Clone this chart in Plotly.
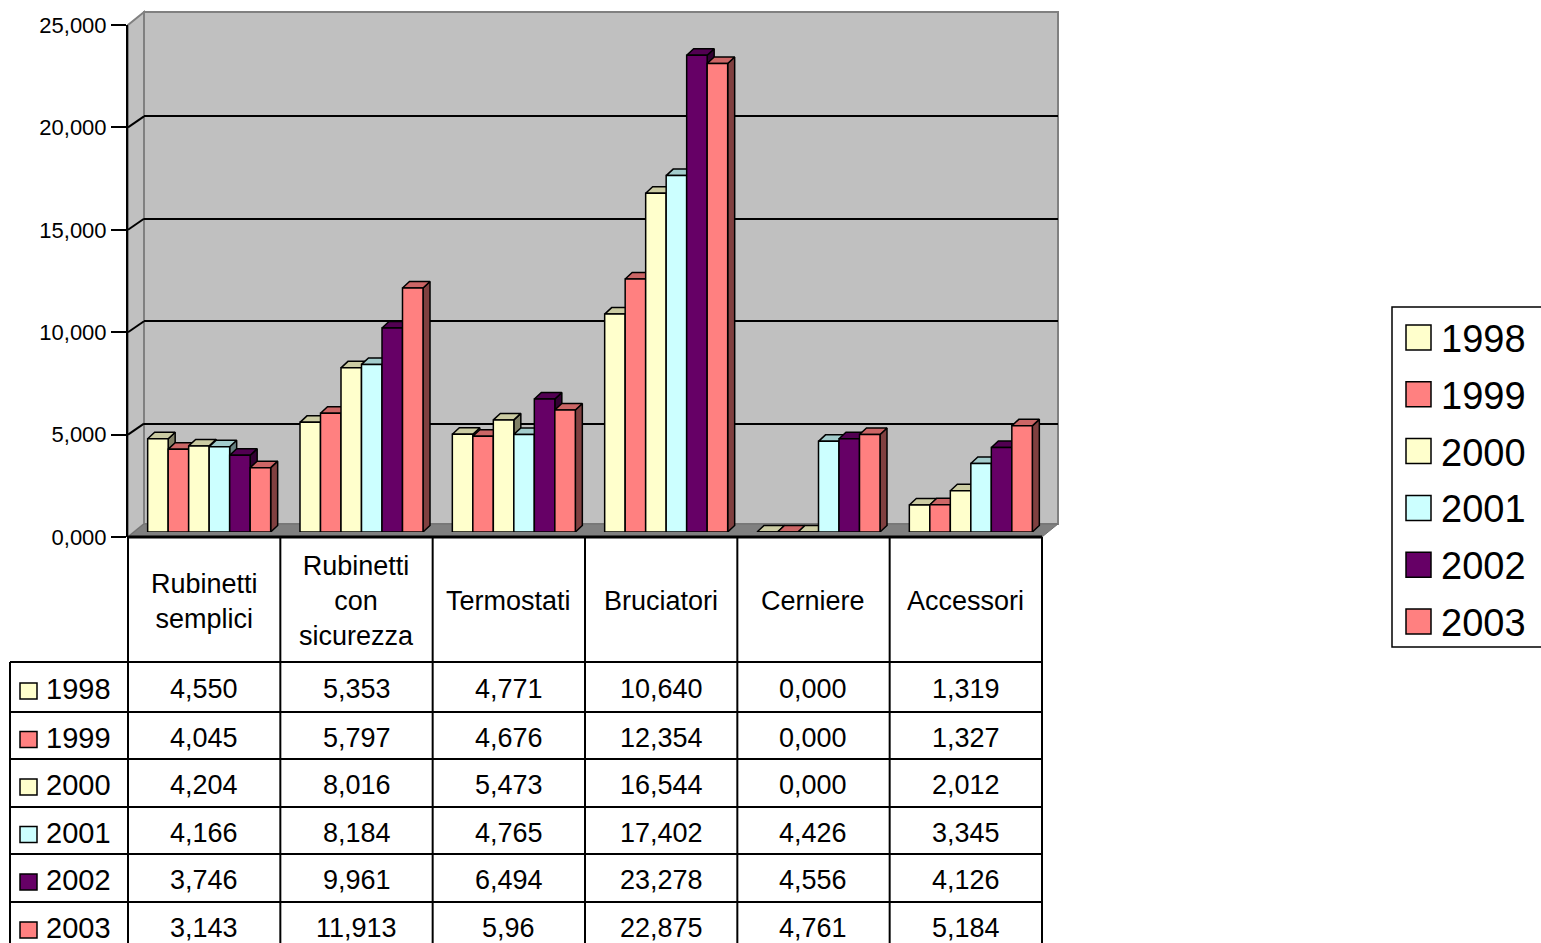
import plotly.graph_objects as go

# ---------------- data ----------------
categories = ["Rubinetti semplici", "Rubinetti con sicurezza", "Termostati",
              "Bruciatori", "Cerniere", "Accessori"]
category_labels = ["Rubinetti<br>semplici", "Rubinetti<br>con<br>sicurezza", "Termostati",
                   "Bruciatori", "Cerniere", "Accessori"]
years = ["1998", "1999", "2000", "2001", "2002", "2003"]
v1998 = [4.550, 5.353, 4.771, 10.640, 0.000, 1.319]
v1999 = [4.045, 5.797, 4.676, 12.354, 0.000, 1.327]
v2000 = [4.204, 8.016, 5.473, 16.544, 0.000, 2.012]
v2001 = [4.166, 8.184, 4.765, 17.402, 4.426, 3.345]
v2002 = [3.746, 9.961, 6.494, 23.278, 4.556, 4.126]
v2003 = [3.143, 11.913, 5.96, 22.875, 4.761, 5.184]
series_values = [v1998, v1999, v2000, v2001, v2002, v2003]
series_colors = ["#FFFFCC", "#FF8080", "#FFFFCC", "#CCFFFF", "#660066", "#FF8080"]
y_tick_values = [0, 5, 10, 15, 20, 25]
table_text_overrides = {(5, 2): "5,96"}   # (series index, category index) -> text as printed

# ---------------- geometry (pixels) ----------------
W, H = 1541, 943
FONT = "Liberation Sans, Arial, sans-serif"
AX_L, AX_R = 128, 1042          # front edge of the category axis
AX_BOT, AX_TOP = 537, 25        # value axis (0 .. 25)
WALL_DX, WALL_DY = 16, 12       # depth offset of back wall
BAR_SHIFT_UP = 5                # bars sit in the middle of the floor depth
BAR_W_PX = 20.5
GROUP_OFF_PX = 5
BAR_DX_PX, BAR_DY_PX = 7, 6.5


def px(x):
    return x / W


def py(y):
    return 1 - y / H


ncat = len(categories)
col_w = (AX_R - AX_L) / ncat
ymax = y_tick_values[-1]
x_unit = col_w                           # px per category unit
y_unit = (AX_BOT - AX_TOP) / ymax        # px per value unit

bw = BAR_W_PX / x_unit
goff = GROUP_OFF_PX / x_unit
ddx = BAR_DX_PX / x_unit
ddy = BAR_DY_PX / y_unit


def shade(hex_color, f):
    h = hex_color.lstrip("#")
    r, g, b = (int(h[i:i + 2], 16) for i in (0, 2, 4))
    return "rgb(%d,%d,%d)" % (round(r * f), round(g * f), round(b * f))


def fmt(v):
    return ("%.3f" % v).replace(".", ",")


fig = go.Figure()

# subplot 1: back-wall gridlines (placeholder trace)
fig.add_trace(go.Scatter(x=[None], y=[None], xaxis="x", yaxis="y", showlegend=False, hoverinfo="skip"))
# subplot 2: left value axis
fig.add_trace(go.Scatter(x=[None], y=[None], xaxis="x2", yaxis="y2", showlegend=False, hoverinfo="skip"))

# subplot 3: 3-D looking columns
nser = len(series_values)
for k, (vals, col) in enumerate(zip(series_values, series_colors)):
    fx, fy, tx, ty, sx, sy = [], [], [], [], [], []
    for i, v in enumerate(vals):
        L = i - nser / 2 * bw + k * bw + goff
        R = L + bw
        fx += [L, R, R, L, L, None]
        fy += [0, 0, v, v, 0, None]
        tx += [L, R, R + ddx, L + ddx, L, None]
        ty += [v, v, v + ddy, v + ddy, v, None]
        sx += [R, R + ddx, R + ddx, R, R, None]
        sy += [0, ddy, v + ddy, v, 0, None]
    for xs, ys, c in ((sx, sy, shade(col, 0.5)), (tx, ty, shade(col, 0.8)), (fx, fy, col)):
        fig.add_trace(go.Scatter(x=xs, y=ys, xaxis="x3", yaxis="y3", mode="lines",
                                 fill="toself", fillcolor=c,
                                 line=dict(color="black", width=1.5),
                                 showlegend=False, hoverinfo="skip", name=years[k]))

hidden_x = dict(showgrid=False, zeroline=False, showline=False, showticklabels=False,
                ticks="", range=[-0.5, ncat - 0.5], fixedrange=True, automargin=False)

fig.update_layout(
    template="none",
    width=W, height=H, autosize=False,
    margin=dict(l=0, r=0, t=0, b=0, pad=0, autoexpand=False),
    paper_bgcolor="white", plot_bgcolor="rgba(0,0,0,0)",
    separators=",.",
    font=dict(family=FONT, color="black"),
    showlegend=False,
    xaxis=dict(domain=[px(AX_L + WALL_DX), px(AX_R + WALL_DX)], anchor="y", **hidden_x),
    yaxis=dict(domain=[py(AX_BOT - WALL_DY + 1), py(AX_TOP - WALL_DY + 1)], anchor="x",
               range=[0, ymax], tickvals=y_tick_values[1:-1], showgrid=True,
               gridcolor="black", gridwidth=2, showticklabels=False, ticks="",
               zeroline=False, showline=False, automargin=False),
    xaxis2=dict(domain=[px(AX_L), px(AX_R)], anchor="y2", **hidden_x),
    yaxis2=dict(domain=[py(AX_BOT), py(AX_TOP)], anchor="x2", range=[0, ymax],
                tickvals=y_tick_values, tickformat=".3f", ticks="outside", ticklen=15,
                tickwidth=2, tickcolor="black", showline=True, linecolor="black",
                linewidth=2, showgrid=False, zeroline=False, automargin=False,
                tickfont=dict(size=22, family=FONT, color="black")),
    xaxis3=dict(domain=[px(AX_L), px(AX_R)], anchor="y3", **hidden_x),
    yaxis3=dict(domain=[py(AX_BOT - BAR_SHIFT_UP), py(AX_TOP - BAR_SHIFT_UP)], anchor="x3",
                range=[0, ymax], showgrid=False, zeroline=False, showline=False,
                showticklabels=False, ticks="", automargin=False),
)

shapes = []
# back wall
shapes.append(dict(type="rect", xref="paper", yref="paper", layer="below",
                   x0=px(AX_L + WALL_DX), x1=px(AX_R + WALL_DX),
                   y0=py(AX_BOT - WALL_DY - 1), y1=py(AX_TOP - WALL_DY - 1),
                   fillcolor="#C0C0C0", line=dict(color="#808080", width=2)))
# left side wall
lw = "M%f,%f L%f,%f L%f,%f L%f,%f Z" % (
    px(AX_L), py(AX_BOT), px(AX_L), py(AX_TOP),
    px(AX_L + WALL_DX), py(AX_TOP - WALL_DY - 1), px(AX_L + WALL_DX), py(AX_BOT - WALL_DY - 1))
shapes.append(dict(type="path", xref="paper", yref="paper", layer="below", path=lw,
                   fillcolor="#C0C0C0", line=dict(color="#808080", width=2)))
# floor
fl = "M%f,%f L%f,%f L%f,%f L%f,%f Z" % (
    px(AX_L), py(AX_BOT), px(AX_R), py(AX_BOT),
    px(AX_R + WALL_DX), py(AX_BOT - WALL_DY - 1), px(AX_L + WALL_DX), py(AX_BOT - WALL_DY - 1))
shapes.append(dict(type="path", xref="paper", yref="paper", layer="below", path=fl,
                   fillcolor="#808080", line=dict(color="#707070", width=1)))
# tick connectors on the side wall
for t in y_tick_values[1:-1]:
    yy = AX_BOT - t * y_unit
    shapes.append(dict(type="line", xref="paper", yref="paper", layer="below",
                       x0=px(AX_L), y0=py(yy), x1=px(AX_L + WALL_DX), y1=py(yy - WALL_DY + 1),
                       line=dict(color="black", width=2)))

# ---------------- data table ----------------
TBL_L = 10
HDR_TOP = AX_BOT
row_lines = [662, 712, 759, 807, 854, 902, 950]
col_lines = [AX_L + i * col_w for i in range(ncat + 1)]
LINE = dict(color="black", width=2)
shapes.append(dict(type="line", xref="paper", yref="paper", x0=px(AX_L), x1=px(AX_R),
                   y0=py(HDR_TOP), y1=py(HDR_TOP), line=dict(color="black", width=3)))
for yl in row_lines[:-1]:
    shapes.append(dict(type="line", xref="paper", yref="paper", x0=px(TBL_L), x1=px(AX_R),
                       y0=py(yl), y1=py(yl), line=LINE))
shapes.append(dict(type="line", xref="paper", yref="paper", x0=px(TBL_L), x1=px(TBL_L),
                   y0=py(row_lines[0]), y1=py(row_lines[-1]), line=LINE))
for xl in col_lines:
    shapes.append(dict(type="line", xref="paper", yref="paper", x0=px(xl), x1=px(xl),
                       y0=py(HDR_TOP), y1=py(row_lines[-1]), line=LINE))

annotations = []
for i, lab in enumerate(category_labels):
    annotations.append(dict(xref="paper", yref="paper", x=px(AX_L + (i + 0.5) * col_w),
                            y=py(601), text=lab, showarrow=False, xanchor="center",
                            yanchor="middle", font=dict(size=27, family=FONT, color="black")))
for k, yr in enumerate(years):
    yc = (row_lines[k] + row_lines[k + 1]) / 2 + 2
    shapes.append(dict(type="rect", xref="paper", yref="paper", x0=px(20), x1=px(37),
                       y0=py(yc - 6), y1=py(yc + 10), fillcolor=series_colors[k],
                       line=dict(color="black", width=1.5)))
    annotations.append(dict(xref="paper", yref="paper", x=px(44), y=py(yc), text=yr,
                            showarrow=False, xanchor="left", yanchor="middle",
                            font=dict(size=29, family=FONT, color="black")))
    for i, v in enumerate(series_values[k]):
        txt = table_text_overrides.get((k, i), fmt(v))
        annotations.append(dict(xref="paper", yref="paper", x=px(AX_L + (i + 0.5) * col_w),
                                y=py(yc), text=txt, showarrow=False, xanchor="center",
                                yanchor="middle", font=dict(size=27, family=FONT, color="black")))

# ---------------- legend ----------------
LEG_L, LEG_T, LEG_B = 1392, 307, 647
shapes.append(dict(type="rect", xref="paper", yref="paper", x0=px(LEG_L), x1=px(W + 20),
                   y0=py(LEG_B), y1=py(LEG_T), fillcolor="white",
                   line=dict(color="black", width=1.5)))
leg_step = 56.8
for k, yr in enumerate(years):
    yc = 339 + k * leg_step
    shapes.append(dict(type="rect", xref="paper", yref="paper", x0=px(1406), x1=px(1431),
                       y0=py(yc + 11), y1=py(yc - 14), fillcolor=series_colors[k],
                       line=dict(color="black", width=1.5)))
    annotations.append(dict(xref="paper", yref="paper", x=px(1439), y=py(yc), text=yr,
                            showarrow=False, xanchor="left", yanchor="middle",
                            font=dict(size=38, family=FONT, color="black")))

fig.update_layout(shapes=shapes, annotations=annotations)
fig.write_html("out.html")
